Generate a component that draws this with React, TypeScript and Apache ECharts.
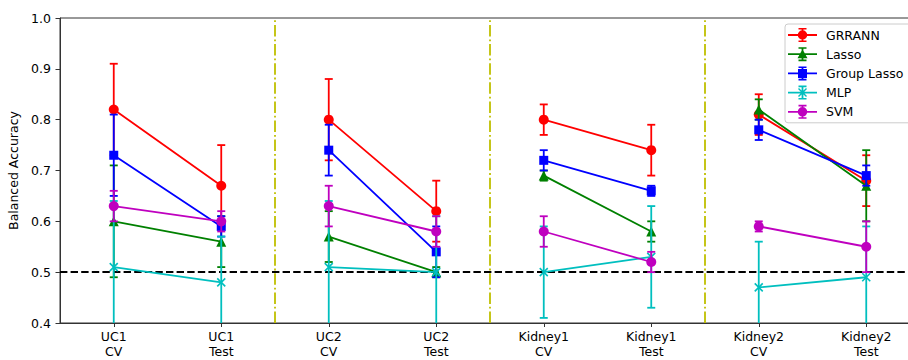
import React, { useEffect, useRef } from "react";
import * as echarts from "echarts";

const categories = [
  "UC1\nCV",
  "UC1\nTest",
  "UC2\nCV",
  "UC2\nTest",
  "Kidney1\nCV",
  "Kidney1\nTest",
  "Kidney2\nCV",
  "Kidney2\nTest",
];
const yTicks = [0.4, 0.5, 0.6, 0.7, 0.8, 0.9, 1.0];

const grrann = [0.82, 0.67, 0.8, 0.62, 0.8, 0.74, 0.81, 0.68];
const grrannErr = [0.09, 0.08, 0.08, 0.06, 0.03, 0.05, 0.04, 0.05];
const lasso = [0.6, 0.56, 0.57, 0.5, 0.69, 0.58, 0.82, 0.67];
const lassoErr = [0.11, 0.05, 0.05, 0.01, 0.01, 0.02, 0.02, 0.07];
const groupLasso = [0.73, 0.59, 0.74, 0.54, 0.72, 0.66, 0.78, 0.69];
const groupLassoErr = [0.08, 0.02, 0.05, 0.05, 0.02, 0.01, 0.02, 0.02];
const mlp = [0.51, 0.48, 0.51, 0.5, 0.5, 0.53, 0.47, 0.49];
const mlpErr = [0.13, 0.09, 0.13, 0.11, 0.09, 0.1, 0.09, 0.1];
const svm = [0.63, 0.6, 0.63, 0.58, 0.58, 0.52, 0.59, 0.55];
const svmErr = [0.03, 0.02, 0.04, 0.03, 0.03, 0.02, 0.01, 0.05];

const chanceLevel = 0.5;
const dividers = [1.5, 3.5, 5.5];

const FONT = "DejaVu Sans";

// legend icons: line + error bar + marker (29 x 14 box)
const ICON_BASE =
  "M0,6.1 h29 v1.8 h-29 Z M13.6,0.5 h1.8 v13 h-1.8 Z M10.5,0 h8 v1.6 h-8 Z M10.5,12.4 h8 v1.6 h-8 Z ";
const ICON_CIRCLE = "M9.75,7 a4.75,4.75 0 1,1 9.5,0 a4.75,4.75 0 1,1 -9.5,0 Z";
const ICON_TRIANGLE = "M14.5,2 L19.5,11 L9.5,11 Z";
const ICON_SQUARE = "M10,2.5 h9 v9 h-9 Z";
const ICON_CROSS = "M10,3.5 L11,2.5 L19,10.5 L18,11.5 Z M18,2.5 L19,3.5 L11,11.5 L10,10.5 Z";

const methods = [
  { name: "GRRANN", values: grrann, err: grrannErr, color: "#ff0000", symbol: "circle", size: 10, icon: ICON_CIRCLE },
  { name: "Lasso", values: lasso, err: lassoErr, color: "#008000", symbol: "triangle", size: 10, icon: ICON_TRIANGLE },
  { name: "Group Lasso", values: groupLasso, err: groupLassoErr, color: "#0000ff", symbol: "rect", size: 9, icon: ICON_SQUARE },
  { name: "MLP", values: mlp, err: mlpErr, color: "#00bfbf", symbol: "path://M0,0L10,10M10,0L0,10", size: 8, icon: ICON_CROSS },
  { name: "SVM", values: svm, err: svmErr, color: "#bf00bf", symbol: "circle", size: 10, icon: ICON_CIRCLE },
];

function pairedLine(values: number[]) {
  const out: any[] = [];
  for (let g = 0; g < values.length / 2; g++) {
    out.push([2 * g, values[2 * g]]);
    out.push([2 * g + 1, values[2 * g + 1]]);
    if (2 * g + 2 < values.length) out.push([2 * g + 1.5, "-"]);
  }
  return out;
}

export default function App() {
  const ref = useRef<HTMLDivElement>(null);
  useEffect(() => {
    document.body.style.margin = "0";
    const chart = echarts.init(ref.current!, null, { renderer: "svg" });
    const lineSeries: any[] = [];
    const errSeries: any[] = [];
    methods.forEach((m, i) => {
      const isCross = m.symbol.startsWith("path://");
      lineSeries.push({
        type: "line",
        name: m.name,
        z: 3 + i * 2,
        data: pairedLine(m.values),
        connectNulls: false,
        symbol: m.symbol,
        symbolSize: m.size,
        showAllSymbol: true,
        lineStyle: { color: m.color, width: 1.8 },
        itemStyle: isCross
          ? { color: m.color, borderColor: m.color, borderWidth: 1.6 }
          : { color: m.color, borderWidth: 0 },
        emphasis: { disabled: true },
        silent: true,
      });
      errSeries.push({
        type: "custom",
        name: m.name,
        z: 2 + i * 2,
        clip: true,
        silent: true,
        itemStyle: { color: m.color },
        data: m.values.map((v, k) => [k, v, m.err[k]]),
        encode: { x: 0, y: 1 },
        renderItem: (params: any, api: any) => {
          const x = api.value(0);
          const y = api.value(1);
          const e = api.value(2);
          const top = api.coord([x, y + e]);
          const bot = api.coord([x, y - e]);
          const cap = 4;
          const style = { stroke: m.color, lineWidth: 1.8 };
          return {
            type: "group",
            children: [
              { type: "line", shape: { x1: top[0], y1: top[1], x2: bot[0], y2: bot[1] }, style },
              { type: "line", shape: { x1: top[0] - cap, y1: top[1], x2: top[0] + cap, y2: top[1] }, style },
              { type: "line", shape: { x1: bot[0] - cap, y1: bot[1], x2: bot[0] + cap, y2: bot[1] }, style },
            ],
          };
        },
      });
    });
    const refSeries = {
      type: "line",
      name: "_ref",
      data: [],
      z: 20,
      silent: true,
      markLine: {
        silent: true,
        symbol: "none",
        label: { show: false },
        animation: false,
        data: [
          { yAxis: chanceLevel, lineStyle: { color: "#000", width: 2, type: [7.4, 3.2] } },
          ...dividers.map((d) => ({
            xAxis: d,
            lineStyle: { color: "#bfbf00", width: 1.8, type: [11.5, 2.9, 1.8, 2.9] },
          })),
        ],
      },
    };

    chart.setOption({
      animation: false,
      grid: {
        left: 60,
        width: 860,
        top: 18,
        bottom: 37,
        outerBoundsMode: "none",
        containLabel: false,
        show: true,
        borderColor: "#333",
        borderWidth: 1,
        backgroundColor: "transparent",
      },
      legend: {
        data: methods.map((m) => ({
          name: m.name,
          icon: "path://" + ICON_BASE + m.icon,
          itemStyle: { color: m.color, borderWidth: 0 },
        })),
        orient: "vertical",
        left: 785,
        top: 24,
        itemWidth: 29,
        itemHeight: 14,
        itemGap: 5.2,
        padding: [4, 14, 4, 3],
        itemStyle: { borderWidth: 0 },
        backgroundColor: "rgba(255,255,255,0.85)",
        borderColor: "#cccccc",
        borderWidth: 1,
        borderRadius: 3,
        textStyle: { fontFamily: FONT, fontSize: 12.5, color: "#000", lineHeight: 14, padding: [0, 0, 0, 4] },
        selectedMode: false,
      },
      xAxis: {
        type: "value",
        min: -0.5,
        max: 7.5,
        splitLine: { show: false },
        axisLine: { show: true, onZero: false, lineStyle: { color: "#333", width: 1 } },
        axisTick: {
          show: true,
          length: 4,
          lineStyle: { color: "#333" },
          customValues: categories.map((_, i) => i),
        },
        axisLabel: {
          customValues: categories.map((_, i) => i),
          formatter: (v: number) => categories[Math.round(v)] ?? "",
          fontFamily: FONT,
          fontSize: 12.5,
          lineHeight: 15,
          color: "#000",
          margin: 6,
        },
      },
      yAxis: {
        type: "value",
        min: 0.4,
        max: 1.0,
        interval: 0.1,
        name: "Balanced Accuracy",
        nameLocation: "middle",
        nameGap: 37,
        nameTextStyle: { fontFamily: FONT, fontSize: 12.5, color: "#000" },
        splitLine: { show: false },
        axisLine: { show: true, onZero: false, lineStyle: { color: "#333", width: 1 } },
        axisTick: { show: true, length: 4.5, lineStyle: { color: "#333" } },
        axisLabel: {
          formatter: (v: number) => {
            const t = yTicks.find((y) => Math.abs(y - v) < 1e-6);
            return (t ?? v).toFixed(1);
          },
          fontFamily: FONT,
          fontSize: 12.5,
          color: "#000",
          margin: 9,
        },
      },
      series: [...lineSeries, ...errSeries, refSeries],
    });
    return () => chart.dispose();
  }, []);
  return <div ref={ref} style={{ width: 908, height: 360 }} />;
}
